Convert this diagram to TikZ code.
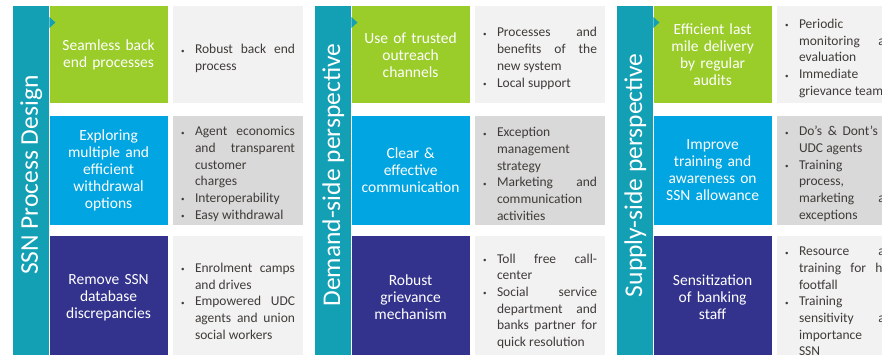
\documentclass[tikz,border=0pt]{standalone}
\usepackage{fontspec}
\setmainfont{Carlito}
\usepackage{xcolor}
\usetikzlibrary{positioning}

\definecolor{barteal}{HTML}{14A0B4}
\definecolor{leafgreen}{HTML}{9ACD2A}
\definecolor{skyblue}{HTML}{00A5E1}
\definecolor{inkpurple}{HTML}{33338D}
\definecolor{palegray}{HTML}{F2F2F2}
\definecolor{midgray}{HTML}{D9D9D9}
\definecolor{bodytext}{HTML}{3F3B38}

% bullet point: later lines hang under the text
\newcommand{\bul}[1]{\par\noindent
  \tolerance=10000\hbadness=10000
  \spaceskip=0.23em plus 2em minus 0.05em
  \hangindent=14pt\hangafter=1
  \makebox[14pt][l]{\raisebox{0.5pt}{\scriptsize\textbullet}}#1\par}
% a line spread out to the full width of the item
\newcommand{\jline}[1]{\makebox[\dimexpr\hsize-14pt][s]{#1}}

\begin{document}
\begin{tikzpicture}[
    x=1pt, y=-1pt,
    bar/.style={rectangle, fill=barteal, minimum width=36pt,
                minimum height=352pt, inner sep=0pt},
    ttl/.style={rotate=90, text=white, inner sep=0pt,
                font=\fontsize{25.5}{26}\selectfont},
    cbox/.style={rectangle, fill=#1, minimum width=118pt, text width=108pt,
                 inner sep=0pt, align=center, text=white,
                 font=\fontsize{15.5}{17}\selectfont},
    note/.style={rectangle, fill=#1, text width=114pt, inner xsep=8pt,
                 inner ysep=0pt, text=bodytext,
                 font=\fontsize{13.5}{16.7}\selectfont},
    r1/.style={minimum height=97pt},
    r2/.style={minimum height=109pt},
    r3/.style={minimum height=123pt},
    node distance=5pt
  ]

  \useasboundingbox (0,0) rectangle (882,355);
  \clip (0,0) rectangle (882,355);

  % SSN process design
  \node[bar, anchor=north west] (bar1) at (13,6) {};
  \node[yshift=7pt, ttl] (t1) at (bar1.center) {SSN Process Design};
  \node[cbox=leafgreen, r1, anchor=north west] (g1) at (bar1.north east)
    {Seamless back\\end processes};
  \node[cbox=skyblue,   r2, below=12pt of g1] (b1)
    {Exploring\\multiple and\\efficient\\withdrawal\\options};
  \node[cbox=inkpurple, r3, below=11pt of b1] (p1)
    {Remove SSN\\database\\discrepancies};
  \node[note=palegray, r1, right=of g1] (ng1)
    {\bul{\jline{Robust back end}\newline process}};
  \node[note=midgray,  r2, right=of b1] (nb1)
    {\bul{\jline{Agent economics}\newline\jline{and transparent}\newline customer\newline charges}
     \bul{Interoperability} \bul{Easy withdrawal}};
  \node[note=palegray, r3, right=of p1] (np1)
    {\bul{\jline{Enrolment camps}\newline and drives}
     \bul{\jline{Empowered UDC}\newline\jline{agents and union}\newline social workers}};

  % demand side
  \node[bar, anchor=north west] (bar2) at (315,6) {};
  \node[yshift=7pt, ttl] (t2) at (bar2.center) {Demand-side perspective};
  \node[cbox=leafgreen, r1, anchor=north west] (g2) at (bar2.north east)
    {Use of trusted\\outreach\\channels};
  \node[cbox=skyblue,   r2, below=12pt of g2] (b2)
    {Clear \&\\effective\\communication};
  \node[cbox=inkpurple, r3, below=11pt of b2] (p2)
    {Robust\\grievance\\mechanism};
  \node[note=palegray, r1, right=of g2] (ng2)
    {\bul{\jline{Processes and}\newline\jline{benefits of the}\newline new system}
     \bul{Local support}};
  \node[note=midgray,  r2, right=of b2] (nb2)
    {\bul{Exception\newline management\newline strategy}
     \bul{\jline{Marketing and}\newline communication\newline activities}};
  \node[note=palegray, r3, right=of p2] (np2)
    {\bul{\jline{Toll free call-}\newline center}
     \bul{\jline{Social service}\newline\jline{department and}\newline
          \jline{banks partner for}\newline quick resolution}};

  % supply side
  \node[bar, anchor=north west] (bar3) at (617,6) {};
  \node[yshift=7pt, ttl] (t3) at (bar3.center) {Supply-side perspective};
  \node[cbox=leafgreen, r1, anchor=north west] (g3) at (bar3.north east)
    {Efficient last\\mile delivery\\by regular\\audits};
  \node[cbox=skyblue,   r2, below=12pt of g3] (b3)
    {Improve\\training and\\awareness on\\SSN allowance};
  \node[cbox=inkpurple, r3, below=11pt of b3] (p3)
    {Sensitization\\of banking\\staff};
  \node[note=palegray, r1, right=of g3] (ng3)
    {\bul{Periodic\newline\jline{monitoring and}\newline evaluation}
     \bul{Immediate\newline grievance team}};
  \node[note=midgray,  r2, right=of b3] (nb3)
    {\bul{\jline{Do's \& Dont's for}\newline UDC agents}
     \bul{Training\newline process,\newline\jline{marketing and}\newline exceptions}};
  \node[note=palegray, r3, right=of p3] (np3)
    {\bul{\jline{Resource and}\newline\jline{training for high}\newline footfall}
     \bul{Training\newline\jline{sensitivity and}\newline\jline{importance of}\newline SSN}};

  % small pointers from the bars into the green boxes
  \foreach \g in {g1, g2, g3}
    \fill[barteal] (\g.north west) ++(0,11) -- ++(6,5.5) -- ++(-6,5.5) -- cycle;

\end{tikzpicture}
\end{document}
